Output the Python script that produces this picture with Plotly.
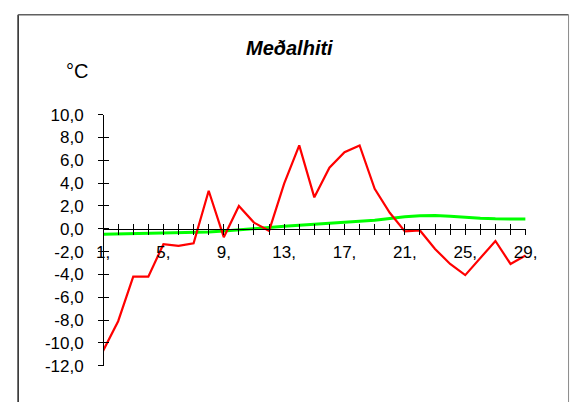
import plotly.graph_objects as go

days = list(range(1, 30))
medalhiti = [-10.7, -8.1, -4.2, -4.2, -1.35, -1.5, -1.27, 3.33, -0.74, 2.0,
             0.54, -0.18, 3.95, 7.3, 2.75, 5.35, 6.7, 7.3, 3.5, 1.4,
             -0.23, -0.15, -1.77, -3.08, -4.06, -2.6, -1.07, -3.08, -2.33]
normal = [-0.48, -0.46, -0.44, -0.42, -0.40, -0.37, -0.33, -0.28, -0.20, -0.08,
          0.02, 0.12, 0.22, 0.30, 0.38, 0.46, 0.55, 0.64, 0.74, 0.90,
          1.05, 1.13, 1.17, 1.10, 0.99, 0.92, 0.87, 0.85, 0.85]
x_ticktext = [f"{d}," if (d - 1) % 4 == 0 else "" for d in days]
y_tickvals = list(range(-12, 11, 2))
y_ticktext = [f"{v},0" for v in y_tickvals]

W, H = 582, 412
FONT = "Liberation Sans, Arial, sans-serif"


def px(xp):  # page x -> paper fraction
    return xp / W


def py(yp):  # page y -> paper fraction
    return (H - yp) / H


ymin, ymax = -12, 10
xd = [px(99.3), px(536.1)]
yd = [py(374.0), py(110.7)]
zero_pos = yd[0] + (0 - ymin) / (ymax - ymin) * (yd[1] - yd[0])

fig = go.Figure()
fig.add_trace(go.Scatter(x=days, y=normal, mode="lines",
                         line=dict(color="#00FF00", width=3), showlegend=False))
fig.add_trace(go.Scatter(x=days, y=medalhiti, mode="lines",
                         line=dict(color="#FF0000", width=2.2), showlegend=False))

common_x = dict(range=[1, 29], domain=xd, tickvals=days, showgrid=False,
                zeroline=False, showline=True, linecolor="black", linewidth=1,
                tickcolor="black", ticklen=5, tickwidth=1,
                anchor="free", position=zero_pos)
common_y = dict(range=[ymin, ymax], domain=yd, tickvals=y_tickvals, showgrid=False,
                zeroline=False, showline=True, linecolor="black", linewidth=1,
                tickcolor="black", ticklen=5, tickwidth=1,
                anchor="free", position=xd[0])

fig.update_layout(
    width=W, height=H,
    margin=dict(l=0, r=0, t=0, b=0),
    paper_bgcolor="white", plot_bgcolor="rgba(0,0,0,0)",
    xaxis=dict(**common_x, ticks="outside", ticktext=x_ticktext,
               tickfont=dict(family=FONT, size=17, color="black"),
               ticklabelstandoff=3),
    xaxis2=dict(**common_x, ticks="inside", overlaying="x", showticklabels=False),
    yaxis=dict(**common_y, ticks="outside", ticktext=y_ticktext,
               tickfont=dict(family=FONT, size=17, color="black"),
               ticklabelstandoff=11),
    yaxis2=dict(**common_y, ticks="inside", overlaying="y", showticklabels=False),
    showlegend=False,
)
# invisible trace to activate overlay axes
fig.add_trace(go.Scatter(x=[1], y=[0], xaxis="x2", yaxis="y2", mode="markers",
                         marker=dict(opacity=0), hoverinfo="skip", showlegend=False))

fig.add_annotation(text="<b><i>Meðalhiti</i></b>", xref="paper", yref="paper",
                   x=px(292), y=py(41), xanchor="center", yanchor="middle",
                   showarrow=False, font=dict(family=FONT, size=20, color="black"))
fig.add_annotation(text="°C", xref="paper", yref="paper",
                   x=px(72), y=py(65), xanchor="center", yanchor="middle",
                   showarrow=False, font=dict(family=FONT, size=20, color="black"))

# chart border
top = py(6)
fig.add_shape(type="line", xref="paper", yref="paper", x0=px(11.5), x1=px(11.5),
              y0=0, y1=top, line=dict(color="#202020", width=1.5))
fig.add_shape(type="line", xref="paper", yref="paper", x0=px(11.5), x1=px(580.5),
              y0=top, y1=top, line=dict(color="#606060", width=1.5))
fig.add_shape(type="line", xref="paper", yref="paper", x0=px(580.5), x1=px(580.5),
              y0=0, y1=top, line=dict(color="#8a8a8a", width=1))

css = ("var s=document.createElement('style');"
       "s.textContent='html,body{margin:0!important;padding:0!important;overflow:hidden!important;}';"
       "document.head.appendChild(s);"
       "document.body.style.margin='0';")
fig.write_html("out.html", post_script=css,
               config={"displayModeBar": False, "responsive": False})
